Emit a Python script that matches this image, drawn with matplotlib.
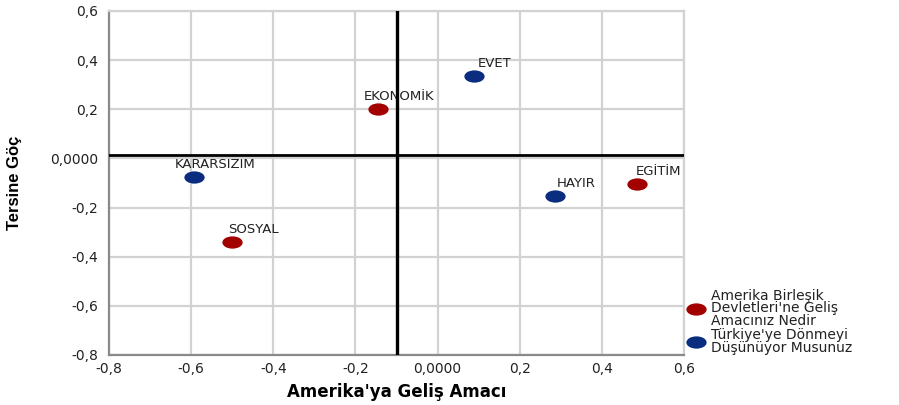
import numpy as np
import matplotlib
matplotlib.use("Agg")
import matplotlib.pyplot as plt
from matplotlib.path import Path
from matplotlib.lines import Line2D

# category points: purpose of coming to the US (red), thinking of returning (blue)
purpose_labels = ["EKONOMİK", "SOSYAL", "EGİTİM"]
purpose_x = [-0.145, -0.50, 0.486]
purpose_y = [0.200, -0.340, -0.104]

return_labels = ["EVET", "KARARSIZIM", "HAYIR"]
return_x = [0.089, -0.593, 0.286]
return_y = [0.335, -0.076, -0.153]

ref_x = -0.099
ref_y = 0.015

x_ticks = [-0.8, -0.6, -0.4, -0.2, 0.0, 0.2, 0.4, 0.6]
x_tick_labels = ["-0,8", "-0,6", "-0,4", "-0,2", "0,0000", "0,2", "0,4", "0,6"]
y_ticks = [-0.8, -0.6, -0.4, -0.2, 0.0, 0.2, 0.4, 0.6]
y_tick_labels = ["-0,8", "-0,6", "-0,4", "-0,2", "0,0000", "0,2", "0,4", "0,6"]

legend_labels = ["Amerika Birleşik\nDevletleri'ne Geliş\nAmacınız Nedir",
                 "Türkiye'ye Dönmeyi\nDüşünüyor Musunuz"]

RED = "#a30000"
BLUE = "#0b2d80"
GRID = "#d2d2d2"

# wide ellipse marker, like the SPSS output
circ = Path.unit_circle()
ELLIPSE = Path(circ.vertices * np.array([1.65, 1.0]), circ.codes)
MSIZE = 14.6  # points, width of the ellipse

fig = plt.figure(figsize=(8.99, 4.05), dpi=100)
ax = fig.add_axes([109 / 899, 1 - 355 / 405, 575 / 899, 344 / 405])

ax.set_xlim(-0.8, 0.6)
ax.set_ylim(-0.8, 0.6)
ax.set_xticks(x_ticks)
ax.set_xticklabels(x_tick_labels)
ax.set_yticks(y_ticks)
ax.set_yticklabels(y_tick_labels)
ax.tick_params(length=0, labelsize=10, colors="#222222")
ax.tick_params(axis="y", pad=8)
ax.tick_params(axis="x", pad=5)
ax.grid(True, color=GRID, linewidth=1.6, zorder=0)
ax.set_axisbelow(True)

for side in ("top", "right"):
    ax.spines[side].set_color(GRID)
    ax.spines[side].set_linewidth(1.6)
for side in ("left", "bottom"):
    ax.spines[side].set_color("#8a8a8a")
    ax.spines[side].set_linewidth(1.6)

ax.axvline(ref_x, color="black", linewidth=2.4, zorder=5)
ax.axhline(ref_y, color="black", linewidth=2.0, zorder=5)

ax.scatter(purpose_x, purpose_y, marker=ELLIPSE, s=MSIZE ** 2, color=RED,
           linewidths=0, zorder=3)
ax.scatter(return_x, return_y, marker=ELLIPSE, s=MSIZE ** 2, color=BLUE,
           linewidths=0, zorder=3)

for lbl, x, y in zip(purpose_labels + return_labels,
                     purpose_x + return_x, purpose_y + return_y):
    ax.annotate(lbl, (x, y), textcoords="offset points", xytext=(15, 9),
                ha="center", va="center", fontsize=9.5, color="#222222",
                zorder=4)

ax.set_xlabel("Amerika'ya Geliş Amacı", fontsize=12, fontweight="bold",
              labelpad=5)
ax.set_ylabel("Tersine Göç", fontsize=12, fontweight="bold",
              family="Liberation Sans", labelpad=20)

handles = [
    Line2D([], [], linestyle="none", marker=ELLIPSE, markersize=MSIZE,
           markerfacecolor=RED, markeredgewidth=0),
    Line2D([], [], linestyle="none", marker=ELLIPSE, markersize=MSIZE,
           markerfacecolor=BLUE, markeredgewidth=0),
]
fig.legend(handles, legend_labels, loc="upper left",
           bbox_to_anchor=(686 / 899, 1 - 289 / 405), frameon=False,
           fontsize=10, borderpad=0, borderaxespad=0, handlelength=1.5,
           handletextpad=0.3, labelspacing=0.05)
for t in fig.legends[0].get_texts():
    t.set_linespacing(0.85)
    t.set_color("#222222")

fig.savefig("out.png", dpi=100)
